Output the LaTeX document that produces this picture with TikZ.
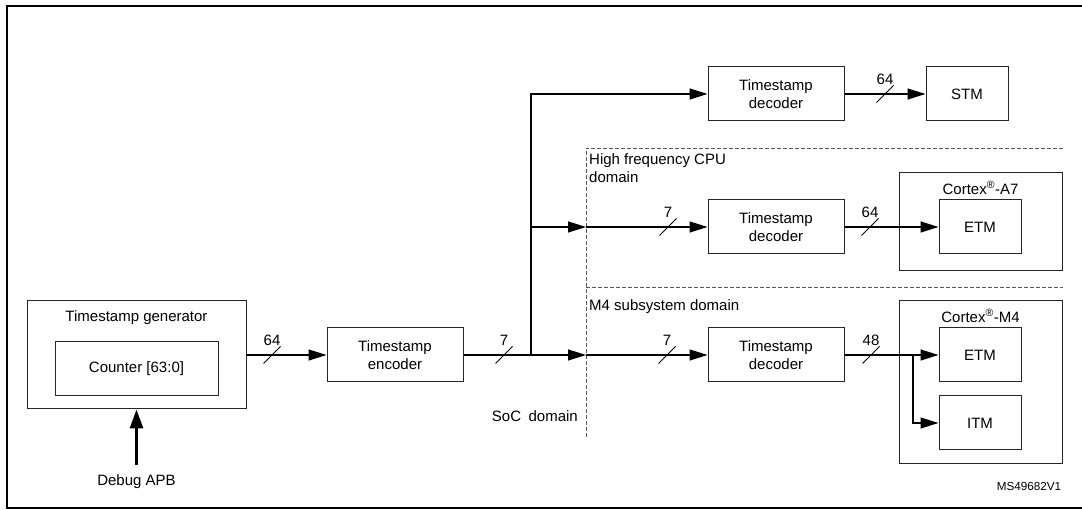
\documentclass[tikz,border=0pt]{standalone}
\usepackage{fontspec}
\setmainfont{Liberation Sans}
\usetikzlibrary{arrows.meta}
\begin{document}
\begin{tikzpicture}[x=1pt,y=-1pt,
  every node/.style={font=\fontsize{15}{18}\selectfont, inner sep=0pt},
  box/.style={draw=black!85, line width=1pt, minimum width=136pt, minimum height=54pt, align=center},
  conn/.style={line width=1.2pt, -{Triangle[length=18pt,width=11pt]}},
  dom/.style={draw=black!65, line width=0.9pt, dash pattern=on 4pt off 2pt},
  bus/.pic={\draw[line width=0.9pt] (-8.5,8.5) -- (8.5,-8.5); \node at (0,-15) {#1};}
]
\useasboundingbox (0,0) rectangle (1082,510);
% frame
\draw[line width=2.5pt] (1082,6) -- (7,6) -- (7,508) -- (1082,508);

% domains
\coordinate (d1) at (586,148);
\coordinate (d1e) at (1063,148);
\coordinate (d2) at (586,287);
\coordinate (d2e) at (1063,287);
\coordinate (dv) at (586,437);
\draw[dom] (d1e) -- (d1) -- (dv);
\draw[dom] (d2) -- (d2e);
\node[align=left, anchor=west] (hf) at (589,168) {High frequency CPU\\domain};
\node[anchor=west] (m4d) at (589,307) {M4 subsystem domain};
\node[anchor=east] (soc) at (578,416) {SoC\hspace{0.5em}domain};

% generator
\node[box, minimum width=219pt, minimum height=108pt] (gen) at (136.5,355) {};
\node (gent) at (136.5,318) {Timestamp generator};
\node[box, minimum width=163pt] (cnt) at (136.5,369) {Counter [63:0]};
\node (dbg) at (136.5,482) {Debug APB};
\coordinate (dbgs) at (136.5,465);
\draw[line width=3pt, -{Triangle[length=19pt,width=13pt]}] (dbgs) -- (gen.south);

% encoder & decoders
\node[box] (enc) at (395,355) {Timestamp\\encoder};
\node[box] (dec1) at (776,94) {Timestamp\\decoder};
\node[box] (dec2) at (776,227) {Timestamp\\decoder};
\node[box] (dec3) at (776,355) {Timestamp\\decoder};
\node[box, minimum width=82pt] (stm) at (967,94) {STM};

% Cortex-A7
\node[box, minimum width=163pt, minimum height=98pt] (a7) at (980.5,222) {};
\node (a7t) at (980.5,188) {Cortex\textsuperscript{®}-A7};
\node[box, minimum width=82pt] (etm1) at (980,227) {ETM};

% Cortex-M4
\node[box, minimum width=163pt, minimum height=163pt] (m4) at (980.5,382.5) {};
\node (m4t) at (980.5,316) {Cortex\textsuperscript{®}-M4};
\node[box, minimum width=82pt] (etm2) at (980,355) {ETM};
\node[box, minimum width=82pt] (itm) at (980,423) {ITM};

% connectors
\coordinate (s2) at (586,227);
\coordinate (s3) at (586,355);
\coordinate (j) at (531,355);
\coordinate (j1) at (531,227);
\coordinate (j2) at (913,355);
\draw[conn] (gen.east) -- (enc.west);
\draw[conn] (enc.east) -- (s3);
\draw[conn] (j) |- (dec1.west);
\draw[conn] (j1) -- (s2);
\draw[conn] (s2) -- (dec2.west);
\draw[conn] (s3) -- (dec3.west);
\draw[conn] (dec1.east) -- (stm.west);
\draw[conn] (dec2.east) -- (etm1.west);
\draw[conn] (dec3.east) -- (etm2.west);
\draw[conn] (j2) |- (itm.west);

% bus width marks
\pic at (272,355) {bus=64};
\pic at (504,355) {bus=7};
\pic at (885,94) {bus=64};
\pic at (668,227) {bus=7};
\pic at (870,227) {bus=64};
\pic at (667,355) {bus=7};
\pic at (871,355) {bus=48};

\node[font=\fontsize{11.7}{14}\selectfont] (ms) at (1029,486) {MS49682V1};
\end{tikzpicture}
\end{document}
